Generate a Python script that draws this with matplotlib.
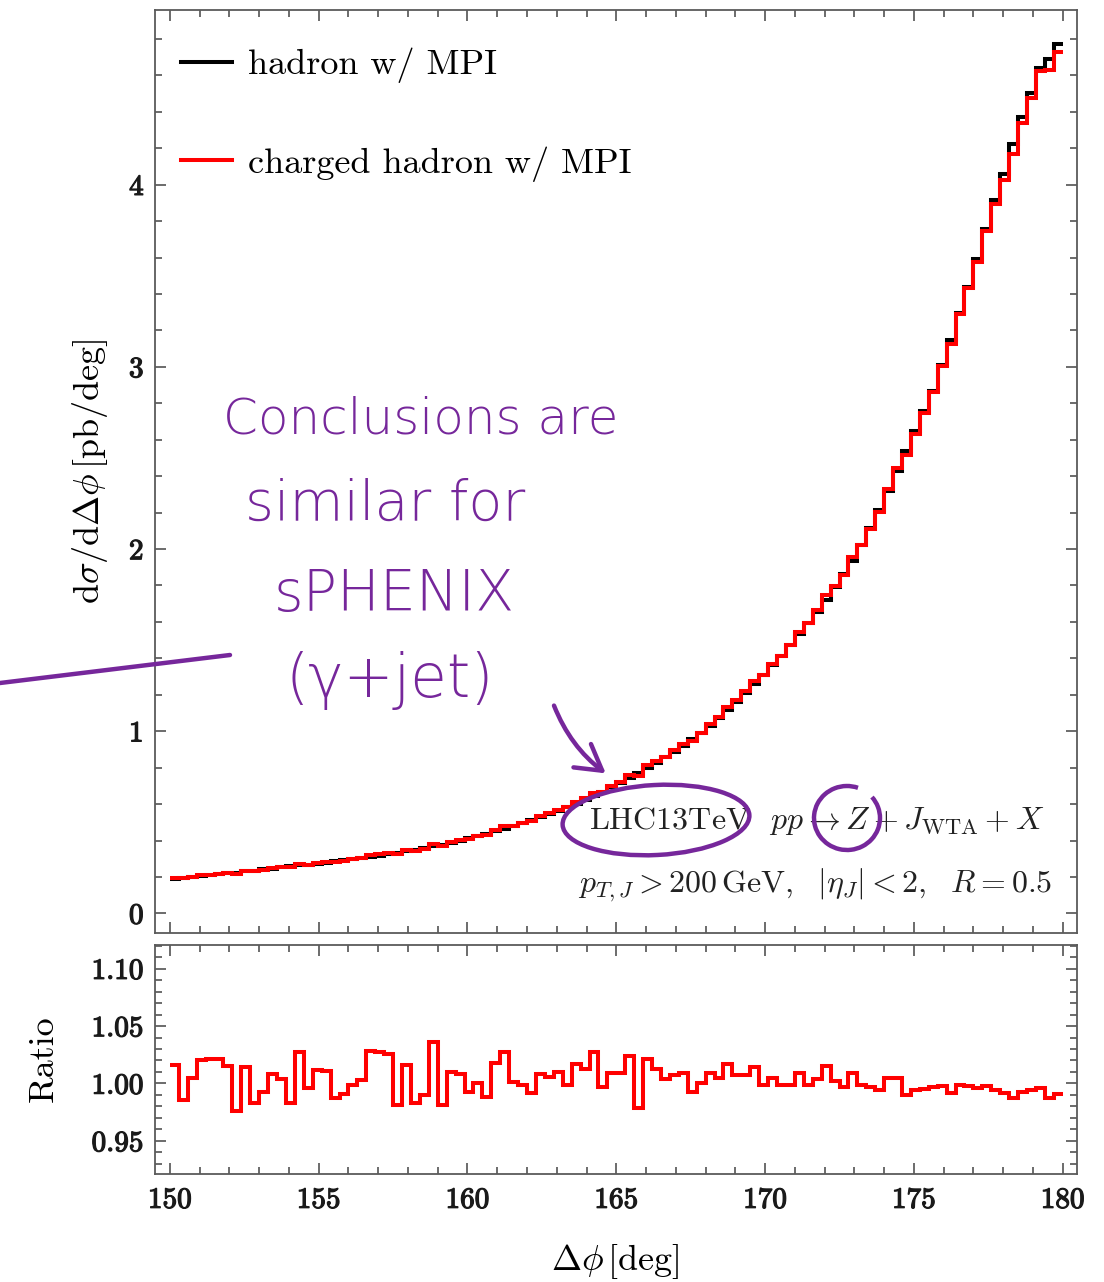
import numpy as np
import matplotlib
matplotlib.use("Agg")
import matplotlib.pyplot as plt
import matplotlib.patheffects as pe
from matplotlib.patches import Ellipse, Arc, FancyArrowPatch
from matplotlib.lines import Line2D
from matplotlib.transforms import Affine2D
from matplotlib.ticker import MultipleLocator, FormatStrFormatter

plt.rcParams.update({
    "font.family": "serif",
    "font.serif": ["cmr10"],
    "mathtext.fontset": "cm",
    "axes.formatter.use_mathtext": True,
})

# Delta-phi binning (degrees)
bin_edges = np.linspace(150.0, 180.0, 101)

# d sigma / d Delta phi [pb/deg], hadron level with MPI
hadron = [
    0.190, 0.1945, 0.199, 0.204, 0.209, 0.214, 0.219, 0.224, 0.230, 0.235,
    0.241, 0.246, 0.252, 0.258, 0.263, 0.268, 0.2735, 0.279, 0.285, 0.291,
    0.297, 0.3035, 0.310, 0.317, 0.324, 0.332, 0.340, 0.349, 0.358, 0.368,
    0.378, 0.389, 0.400, 0.412, 0.424, 0.437, 0.451, 0.465, 0.480, 0.495,
    0.511, 0.528, 0.545, 0.563, 0.582, 0.602, 0.623, 0.645, 0.668, 0.692,
    0.717, 0.743, 0.770, 0.798, 0.827, 0.857, 0.888, 0.921, 0.955, 0.990,
    1.030, 1.072, 1.116, 1.162, 1.210, 1.259, 1.309, 1.361, 1.415, 1.472,
    1.533, 1.593, 1.656, 1.722, 1.791, 1.863, 1.937, 2.022, 2.115, 2.215,
    2.320, 2.430, 2.540, 2.650, 2.760, 2.870, 3.010, 3.150, 3.295, 3.440,
    3.590, 3.755, 3.915, 4.060, 4.225, 4.370, 4.505, 4.640, 4.690, 4.770,
]

# charged hadron / hadron
ratio = [
    1.016, 0.986, 1.005, 1.020, 1.021, 1.021, 1.015, 0.976, 1.014, 0.983,
    0.993, 1.008, 1.004, 0.983, 1.027, 0.996, 1.012, 1.011, 0.987, 0.991,
    0.999, 1.003, 1.028, 1.027, 1.026, 0.981, 1.016, 0.983, 0.990, 1.036,
    0.981, 1.010, 1.008, 0.993, 1.000, 0.988, 1.018, 1.027, 1.001, 0.999,
    0.992, 1.008, 1.006, 1.010, 0.999, 1.017, 1.013, 1.027, 0.997, 1.009,
    1.009, 1.024, 0.979, 1.021, 1.013, 1.004, 1.007, 1.009, 0.993, 1.000,
    1.009, 1.005, 1.017, 1.007, 1.007, 1.014, 0.999, 1.005, 0.999, 0.999,
    1.009, 0.999, 1.004, 1.015, 1.002, 0.997, 1.009, 0.999, 0.997, 0.994,
    1.005, 1.005, 0.990, 0.994, 0.995, 0.997, 0.998, 0.992, 0.999, 0.998,
    0.996, 0.998, 0.994, 0.992, 0.987, 0.993, 0.994, 0.996, 0.987, 0.991,
]

charged = np.array(hadron) * np.array(ratio)

series_labels = ["hadron w/ MPI", "charged hadron w/ MPI"]
series_colors = ["black", "#ff0000"]

W, H = 1104, 1282
fig = plt.figure(figsize=(W / 100, H / 100), dpi=100)

ax = fig.add_axes([0.14013, 0.27262, 0.83541, 0.71958])
ax2 = fig.add_axes([0.14013, 0.08463, 0.83541, 0.17863])

lw = 2.9
ax.stairs(hadron, bin_edges, baseline=None, color=series_colors[0], lw=lw)
ax.stairs(charged, bin_edges, baseline=None, color=series_colors[1], lw=lw)
ax2.stairs(ratio, bin_edges, baseline=None, color=series_colors[1], lw=lw)

frame_col = "#5a5a5a"
for a in (ax, ax2):
    a.set_xlim(149.49, 180.48)
    a.xaxis.set_major_locator(MultipleLocator(5))
    a.xaxis.set_minor_locator(MultipleLocator(1))
    a.tick_params(which="both", direction="in", top=True, right=True,
                  color="#444444", width=1.1, labelsize=21)
    a.tick_params(which="major", length=8)
    a.tick_params(which="minor", length=5)
    for s in a.spines.values():
        s.set_color(frame_col)
        s.set_linewidth(1.3)

ax.set_ylim(-0.105, 4.959)
ax.yaxis.set_major_locator(MultipleLocator(1))
ax.yaxis.set_minor_locator(MultipleLocator(0.2))
ax.yaxis.set_major_formatter(FormatStrFormatter("%d"))
ax.tick_params(labelbottom=False, pad=8)

ax2.set_ylim(0.9216, 1.121)
ax2.yaxis.set_major_locator(MultipleLocator(0.05))
ax2.yaxis.set_minor_locator(MultipleLocator(0.01))
ax2.yaxis.set_major_formatter(FormatStrFormatter("%.2f"))
ax2.xaxis.set_major_formatter(FormatStrFormatter("%d"))
ax2.tick_params(axis="y", pad=8)
ax2.tick_params(axis="x", pad=10)

# slightly heavier tick numerals
thick = [pe.withStroke(linewidth=0.9, foreground="#1a1a1a")]
for a in (ax, ax2):
    for lbl in a.get_xticklabels() + a.get_yticklabels():
        lbl.set_path_effects(thick)
        lbl.set_color("#1a1a1a")

ax.set_ylabel(r"$\mathrm{d}\sigma/\mathrm{d}\Delta\phi\,[\mathrm{pb/deg}]$", fontsize=26)
ax.yaxis.set_label_coords(-0.049, 0.50)
ax2.set_ylabel("Ratio", fontsize=26)
ax2.yaxis.set_label_coords(-0.103, 0.50)
ax2.set_xlabel(r"$\Delta\phi\,[\mathrm{deg}]$", fontsize=26)
ax2.xaxis.set_label_coords(0.5, -0.30)

handles = [Line2D([], [], color=c, lw=lw) for c in series_colors]
ax.legend(handles, series_labels, loc="upper left", bbox_to_anchor=(0.0054, 0.9826),
          frameon=False, fontsize=26, handlelength=1.4, handletextpad=0.45,
          labelspacing=1.75, borderaxespad=0.3, borderpad=0.3)

ax.text(0.965, 0.121, r"LHC13TeV  $pp\to Z+J_{\mathrm{WTA}}+X$",
        transform=ax.transAxes, ha="right", va="center", fontsize=23, color="#222222")
ax.text(0.973, 0.051, r"$p_{T,J}>200\,\mathrm{GeV},\ \ |\eta_J|<2,\ \ R=0.5$",
        transform=ax.transAxes, ha="right", va="center", fontsize=23, color="#222222")

# handwritten-style notes, placed in pixel coordinates from the top-left corner
px = Affine2D().scale(1, -1).translate(0, H)
ink = "#76279b"
note_font = dict(family="DejaVu Sans", weight="light", color=ink, ha="center", va="center")
fig.text(421, 420, "Conclusions are", transform=px, fontsize=36, **note_font)
fig.text(385, 505, "similar for", transform=px, fontsize=40, **note_font)
fig.text(394, 595, "sPHENIX", transform=px, fontsize=41, **note_font)
fig.text(390, 680, "(\u03b3+jet)", transform=px, fontsize=43, **note_font)

fig.add_artist(Line2D([0, 230], [683, 655], transform=px, color=ink, lw=3.2,
                      solid_capstyle="round"))
fig.add_artist(FancyArrowPatch((553, 703), (608, 775), transform=px,
                               connectionstyle="arc3,rad=0.15",
                               arrowstyle="->,head_length=0.6,head_width=0.35",
                               mutation_scale=30, color=ink, lw=3.2))
fig.add_artist(Ellipse((656, 820), 187, 70, angle=-3, transform=px,
                       fill=False, edgecolor=ink, lw=3.2))
fig.add_artist(Arc((847, 818), 66, 64, theta1=-40, theta2=290, transform=px,
                   edgecolor=ink, lw=3.2))

fig.savefig("out.png", dpi=100)
